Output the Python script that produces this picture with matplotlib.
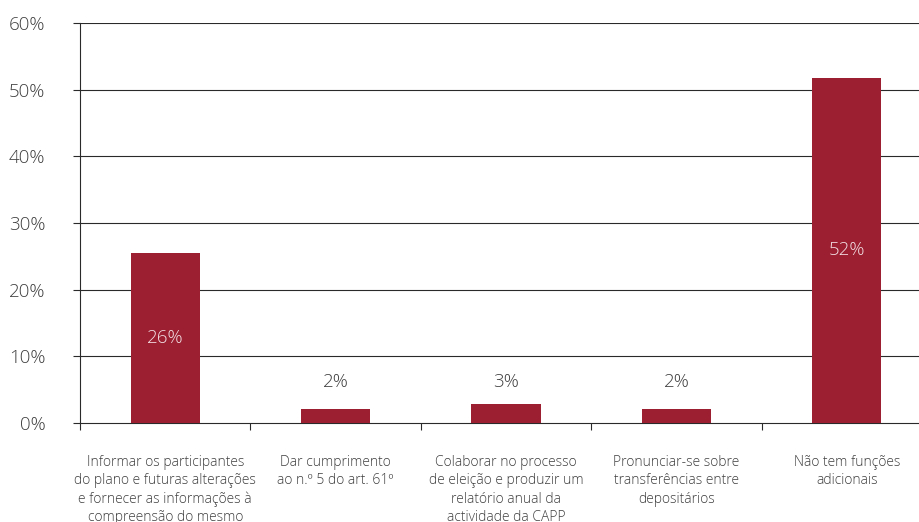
import matplotlib
matplotlib.use('Agg')
import matplotlib.pyplot as plt
import numpy as np

plt.rcParams['font.family'] = ['Open Sans', 'DejaVu Sans']

categories = [
    'Informar os participantes\ndo plano e futuras alterações\ne fornecer as informações à\ncompreensão do mesmo',
    'Dar cumprimento\nao n.º 5 do art. 61º',
    'Colaborar no processo\nde eleição e produzir um\nrelatório anual da\nactividade da CAPP',
    'Pronunciar-se sobre\ntransferências entre\ndepositários',
    'Não tem funções\nadicionais',
]
values = [25.5, 2.1, 2.85, 2.1, 51.8]
value_labels = ['26%', '2%', '3%', '2%', '52%']
yticks = [0, 10, 20, 30, 40, 50, 60]

bar_color = '#9b1e31'
text_color = '#3f3f3f'

fig = plt.figure(figsize=(9.2, 5.22), dpi=100)
ax = fig.add_axes([80 / 920, 99 / 522, 852 / 920, 400 / 522])

x = np.arange(len(categories))
ax.bar(x, values, width=0.405, color=bar_color, zorder=3)

ax.set_xlim(-0.5, len(categories) - 0.5)
ax.set_ylim(0, 60)

# horizontal grid
for t in yticks[1:]:
    ax.axhline(t, color='#2a2a2a', lw=0.8, zorder=1)

# value labels: inside tall bars, above short ones
for xi, v, lab in zip(x, values, value_labels):
    if v > 10:
        ax.text(xi, v / 2, lab, ha='center', va='center', color='#f3e1e4',
                fontsize=13.5, fontweight='light', zorder=4)
    else:
        ax.text(xi, 6.1, lab, ha='center', va='center', color=text_color,
                fontsize=13.5, fontweight='light', zorder=4)

ax.set_yticks(yticks)
ax.set_yticklabels(['%d%%' % t for t in yticks], color=text_color,
                   fontsize=13.5, fontweight='light')
ax.tick_params(axis='y', length=5, width=0.8, color='#2a2a2a', pad=20)

ax.set_xticks(x)
ax.set_xticklabels(categories, color=text_color, fontsize=10,
                   fontweight='light', linespacing=1.3)
ax.tick_params(axis='x', which='major', length=0, pad=23)
ax.set_xticks(np.arange(len(categories) + 1) - 0.5, minor=True)
ax.tick_params(axis='x', which='minor', length=5, width=0.8, color='#2a2a2a')

for s in ['top', 'right']:
    ax.spines[s].set_visible(False)
for s in ['left', 'bottom']:
    ax.spines[s].set_color('#2a2a2a')
    ax.spines[s].set_linewidth(0.8)

fig.savefig('out.png', dpi=100)
